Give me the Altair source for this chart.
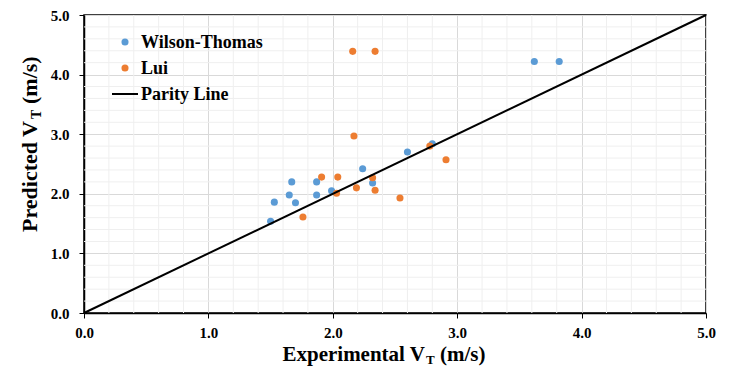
import altair as alt
import pandas as pd

# ---- data ----
series_names = ["Wilson-Thomas", "Lui"]
series_colors = ["#5b9bd5", "#ed7d31"]

wt_x = [1.50, 1.53, 1.65, 1.67, 1.70, 1.87, 1.87, 1.99, 2.24, 2.32, 2.60, 2.80, 3.62, 3.82]
wt_y = [1.54, 1.86, 1.98, 2.20, 1.85, 1.98, 2.20, 2.05, 2.42, 2.18, 2.70, 2.84, 4.22, 4.22]

lui_x = [1.76, 1.91, 2.03, 2.04, 2.16, 2.17, 2.19, 2.32, 2.34, 2.34, 2.54, 2.78, 2.91]
lui_y = [1.61, 2.28, 2.01, 2.28, 4.39, 2.97, 2.10, 2.27, 2.06, 4.39, 1.93, 2.80, 2.57]

parity_x = [0.0, 5.0]
parity_y = [0.0, 5.0]

major_ticks = [0, 1, 2, 3, 4, 5]
minor_ticks = [0.2, 0.4, 0.6, 0.8, 1.2, 1.4, 1.6, 1.8, 2.2, 2.4, 2.6, 2.8,
               3.2, 3.4, 3.6, 3.8, 4.2, 4.4, 4.6, 4.8]

FONT = "Liberation Serif, Times New Roman, serif"
W, H = 622, 298

pts = pd.concat([
    pd.DataFrame({"x": wt_x, "y": wt_y, "series": series_names[0]}),
    pd.DataFrame({"x": lui_x, "y": lui_y, "series": series_names[1]}),
])
parity = pd.DataFrame({"x": parity_x, "y": parity_y})
minor = pd.DataFrame({"v": minor_ticks})

xscale = alt.Scale(domain=[0, 5], nice=False, zero=False)
yscale = alt.Scale(domain=[0, 5], nice=False, zero=False)

axis_common = dict(
    values=major_ticks, format=".1f", title=None, labelFlush=False,
    labelFont=FONT, labelFontWeight="bold", labelFontSize=15, labelColor="black",
    tickColor="black", tickSize=5, tickWidth=1,
    domainColor="black", domainWidth=1.5,
    gridColor="#d9d9d9", gridWidth=1,
)
xaxis = alt.Axis(labelPadding=7, **axis_common)
yaxis = alt.Axis(labelPadding=10, **axis_common)

grid_v = alt.Chart(minor).mark_rule(color="#efefef", strokeWidth=1).encode(
    x=alt.X("v:Q", scale=xscale, axis=xaxis)
)
grid_h = alt.Chart(minor).mark_rule(color="#efefef", strokeWidth=1).encode(
    y=alt.Y("v:Q", scale=yscale, axis=yaxis)
)

points = alt.Chart(pts).mark_point(filled=True, size=50, opacity=1).encode(
    x=alt.X("x:Q", scale=xscale, axis=xaxis),
    y=alt.Y("y:Q", scale=yscale, axis=yaxis),
    color=alt.Color("series:N", scale=alt.Scale(domain=series_names, range=series_colors), legend=None),
)

line = alt.Chart(parity).mark_line(color="black", strokeWidth=2).encode(
    x=alt.X("x:Q", scale=xscale, axis=xaxis),
    y=alt.Y("y:Q", scale=yscale, axis=yaxis),
)

one = pd.DataFrame({"a": [0]})

def txt(text, x, y, size, align="left", angle=0, baseline="alphabetic"):
    kw = dict(text=text, font=FONT, fontWeight="bold", fontSize=size, color="black",
              align=align, baseline=baseline)
    if angle:
        kw["angle"] = angle
    return alt.Chart(one).mark_text(**kw).encode(x=alt.value(x), y=alt.value(y))

# legend (manual, inside the plot)
leg_wt = alt.Chart(one).mark_point(filled=True, size=50, opacity=1, color=series_colors[0]).encode(
    x=alt.value(41), y=alt.value(27))
leg_lui = alt.Chart(one).mark_point(filled=True, size=50, opacity=1, color=series_colors[1]).encode(
    x=alt.value(41), y=alt.value(53))
leg_line = alt.Chart(one).mark_rule(color="black", strokeWidth=2).encode(
    x=alt.value(28), x2=alt.value(54), y=alt.value(79))
leg_t1 = txt("Wilson-Thomas", 57, 33, 18)
leg_t2 = txt("Lui", 57, 59, 18)
leg_t3 = txt("Parity Line", 57, 85, 18)

# axis titles with subscript T
xt1 = txt("Experimental V", 341, 346, 21, align="right")
xt2 = txt("T", 342, 349, 13)
xt3 = txt("(m/s)", 356, 346, 21)

yt1 = txt("Predicted V", -47, 217, 22, angle=270)
yt2 = txt("T", -43, 104, 14, angle=270)
yt3 = txt("(m/s)", -47, 89, 22, angle=270)

chart = alt.layer(
    grid_v, grid_h, points, line,
    leg_wt, leg_lui, leg_line, leg_t1, leg_t2, leg_t3,
    xt1, xt2, xt3, yt1, yt2, yt3,
).properties(
    width=W, height=H,
    autosize=alt.AutoSizeParams(type="none"),
    padding={"left": 84, "top": 15, "right": 26, "bottom": 53},
    background="white",
).configure_view(stroke="black", strokeWidth=1.5)

chart.save("out.html", embed_options={"renderer": "svg", "actions": False})
